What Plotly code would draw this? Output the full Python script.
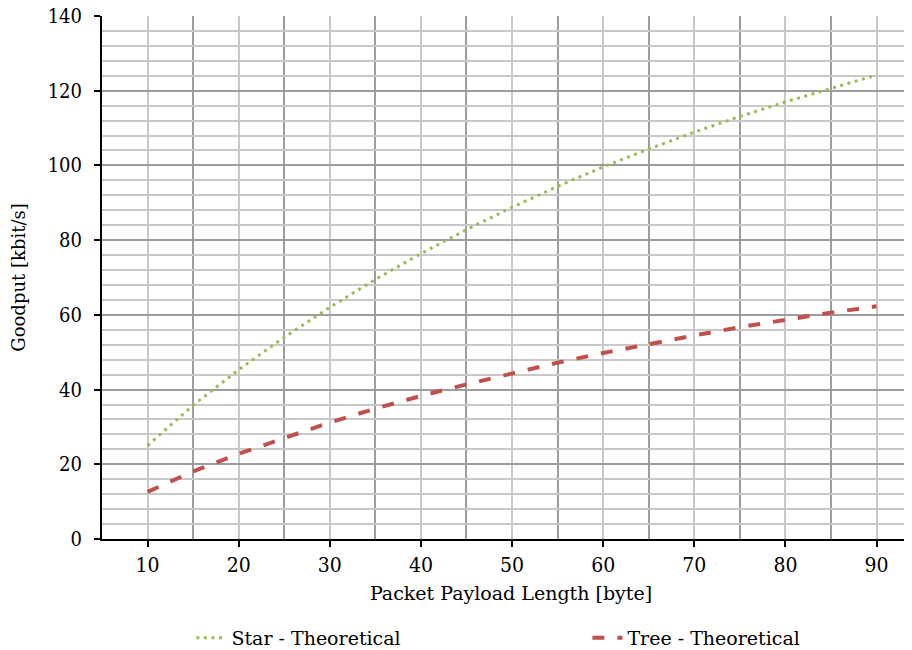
import plotly.graph_objects as go

payload = [10, 15, 20, 25, 30, 35, 40, 45, 50, 55, 60, 65, 70, 75, 80, 85, 90]
star = [25.0, 35.8, 45.3, 54.0, 62.0, 69.5, 76.4, 82.8, 88.8, 94.4, 99.6, 104.4, 108.9, 113.1, 117.0, 120.7, 124.2]
tree = [12.6, 18.1, 22.8, 27.1, 31.2, 34.9, 38.3, 41.4, 44.4, 47.2, 49.8, 52.2, 54.5, 56.7, 58.7, 60.6, 62.3]

SERIF = "DejaVu Serif"
COND = "DejaVu Serif Condensed"

fig = go.Figure()
fig.add_trace(go.Scatter(
    x=payload, y=star, mode="lines", name="Star - Theoretical", legend="legend",
    line=dict(color="#9BBB59", width=3, dash="3px,4.5px"),
))
fig.add_trace(go.Scatter(
    x=payload, y=tree, mode="lines", name="Tree - Theoretical", legend="legend2",
    line=dict(color="#C0504D", width=4, dash="12px,13px"),
))

leg_common = dict(orientation="h", yanchor="middle", xanchor="left", bgcolor="rgba(0,0,0,0)",
                  font=dict(family=SERIF, size=19, color="black"))

fig.update_layout(
    width=912, height=650,
    margin=dict(l=94, r=0, t=8, b=119, autoexpand=False),
    paper_bgcolor="white", plot_bgcolor="white",
    font=dict(family=SERIF, size=19, color="black"),
    showlegend=True,
    legend=dict(x=0.1093, y=-0.189, **leg_common),
    legend2=dict(x=0.5934, y=-0.189, **leg_common),
    xaxis=dict(
        range=[5, 94.77], tickmode="linear", tick0=10, dtick=10,
        showgrid=True, gridcolor="#C8C8C8", gridwidth=2,
        ticks="outside", ticklen=6, tickwidth=2, tickcolor="black",
        showline=True, linecolor="black", linewidth=2,
        zeroline=False, automargin=False, ticklabeloverflow="allow",
        minor=dict(tickmode="linear", tick0=5, dtick=10, showgrid=True,
                   gridcolor="#9C9C9C", gridwidth=2, ticklen=0),
        title=dict(text="Packet Payload Length [byte]", font=dict(family=SERIF, size=19), standoff=10),
        tickfont=dict(family=COND, size=21),
    ),
    yaxis=dict(
        range=[0, 140], tickmode="linear", tick0=0, dtick=20,
        showgrid=True, gridcolor="#9C9C9C", gridwidth=2,
        ticks="outside", ticklen=6, tickwidth=2, tickcolor="black",
        showline=True, linecolor="black", linewidth=2,
        zeroline=False, automargin=False, ticklabeloverflow="allow",
        ticklabelstandoff=8,
        minor=dict(tickmode="linear", tick0=0, dtick=4, showgrid=True,
                   gridcolor="#C8C8C8", gridwidth=2, ticklen=0),
        title=dict(text="Goodput [kbit/s]", font=dict(family=SERIF, size=18), standoff=18),
        tickfont=dict(family=COND, size=20),
    ),
)

fig.write_html("out.html")
